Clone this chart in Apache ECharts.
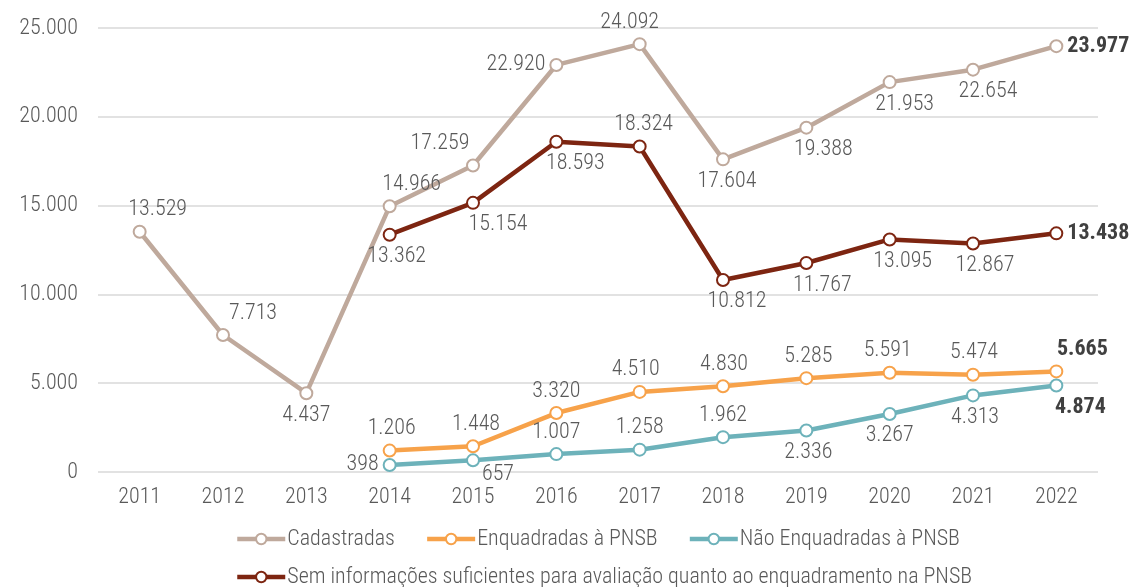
<!DOCTYPE html>
<html><head><meta charset="utf-8">
<script src="https://cdn.jsdelivr.net/npm/echarts@6/dist/echarts.min.js"></script>
<style>html,body{margin:0;padding:0;background:#fff}#c{width:1132px;height:587px}</style>
</head><body><div id="c"></div>
<script>
const years = ['2011','2012','2013','2014','2015','2016','2017','2018','2019','2020','2021','2022'];
const cadastradas = [13529, 7713, 4437, 14966, 17259, 22920, 24092, 17604, 19388, 21953, 22654, 23977];
const enquadradas = [null, null, null, 1206, 1448, 3320, 4510, 4830, 5285, 5591, 5474, 5665];
const naoEnquadradas = [null, null, null, 398, 657, 1007, 1258, 1962, 2336, 3267, 4313, 4874];
const semInfo = [null, null, null, 13362, 15154, 18593, 18324, 10812, 11767, 13095, 12867, 13438];
const yTicks = [0, 5000, 10000, 15000, 20000, 25000];

// label placement (style only)
const posCad = ['top','top','bottom','top','top','left','top','bottom','bottom','bottom','bottom','right'];
const posSem = [null,null,null,'bottom','bottom','bottom','top','bottom','bottom','bottom','bottom','right'];
const posEnq = [null,null,null,'top','top','top','top','top','top','top','top','top'];
const posNao = [null,null,null,'left','bottom','top','top','top','bottom','bottom','bottom','bottom'];
const dxCad = [18, 30, 0, 22, -33, 0, -10, 4, 17, 15, 15, 0];
const dxSem = [0, 0, 0, 7, 25, 19, 4, 14, 16, 13, 12, 0];
const dxEnq = [0, 0, 0, 2, 3, 0, -4, 1, 2, -2, 1, 26];
const dxNao = [0, 0, 0, 0, 25, 0, 0, 0, 2, 0, 2, 24];
const dyNao = [0, 0, 0, 0, -8, 0, 0, 0, 0, 0, 0, 0];
const zeros = new Array(12).fill(0);

const FONT = '"Roboto Condensed", "DejaVu Sans Condensed", sans-serif';
const FS = 22;
const FW = 300;
const TXT = '#595959';
function fmt(v){ return String(v).replace(/\B(?=(\d{3})+(?!\d))/g, '.'); }
function build(vals, pos, dx, dy){
  return vals.map((v,i)=>{
    if(v===null) return null;
    const last = i===vals.length-1;
    const lab = {position: pos[i], fontWeight: last?'bold':FW, offset:[dx[i], dy[i]]};
    if(last) lab.color = '#404040';
    return {value:v, label:lab};
  });
}
function series(name, vals, pos, dx, dy, color){
  return {
    name, type:'line', data: build(vals,pos,dx,dy), connectNulls:false,
    symbol:'circle', symbolSize:12,
    itemStyle:{color:'#fff', borderColor:color, borderWidth:2},
    lineStyle:{color:color, width:4.5},
    label:{show:true, formatter:p=>fmt(p.value), fontFamily:FONT, fontSize:FS, fontWeight:FW, color:TXT, distance:4},
    z: 2
  };
}
const cCad='#bfa99c', cEnq='#f7a24a', cNao='#6db2ba', cSem='#7d2511';
const legendText = {fontFamily:FONT, fontSize:FS, fontWeight:FW, color:TXT, padding:[0,0,0,-3]};
const legendCommon = {left:230, itemWidth:48, itemHeight:13, itemGap:30, textStyle:legendText,
  lineStyle:{width:4.5}, itemStyle:{borderWidth:2}};
const chart = echarts.init(document.getElementById('c'));
chart.setOption({
  animation:false,
  grid:{left:98, right:34, top:28, bottom:115},
  legend:[
    Object.assign({data:['Cadastradas','Enquadradas à PNSB','Não Enquadradas à PNSB'], top:523}, legendCommon),
    Object.assign({data:['Sem informações suficientes para avaliação quanto ao enquadramento na PNSB'], top:561}, legendCommon)
  ],
  xAxis:{type:'category', data:years, boundaryGap:true,
    axisLine:{show:false}, axisTick:{show:false},
    axisLabel:{fontFamily:FONT, fontSize:FS, fontWeight:FW, color:TXT, margin:14}},
  yAxis:{type:'value', min:0, max:25000, interval:5000,
    axisLabel:{fontFamily:FONT, fontSize:FS, fontWeight:FW, color:TXT, margin:20, formatter:v=>fmt(v)},
    splitLine:{lineStyle:{color:'#d9d9d9', width:1.5}}},
  series:[
    series('Cadastradas', cadastradas, posCad, dxCad, zeros, cCad),
    series('Enquadradas à PNSB', enquadradas, posEnq, dxEnq, zeros, cEnq),
    series('Não Enquadradas à PNSB', naoEnquadradas, posNao, dxNao, dyNao, cNao),
    series('Sem informações suficientes para avaliação quanto ao enquadramento na PNSB', semInfo, posSem, dxSem, zeros, cSem)
  ]
});
</script></body></html>
